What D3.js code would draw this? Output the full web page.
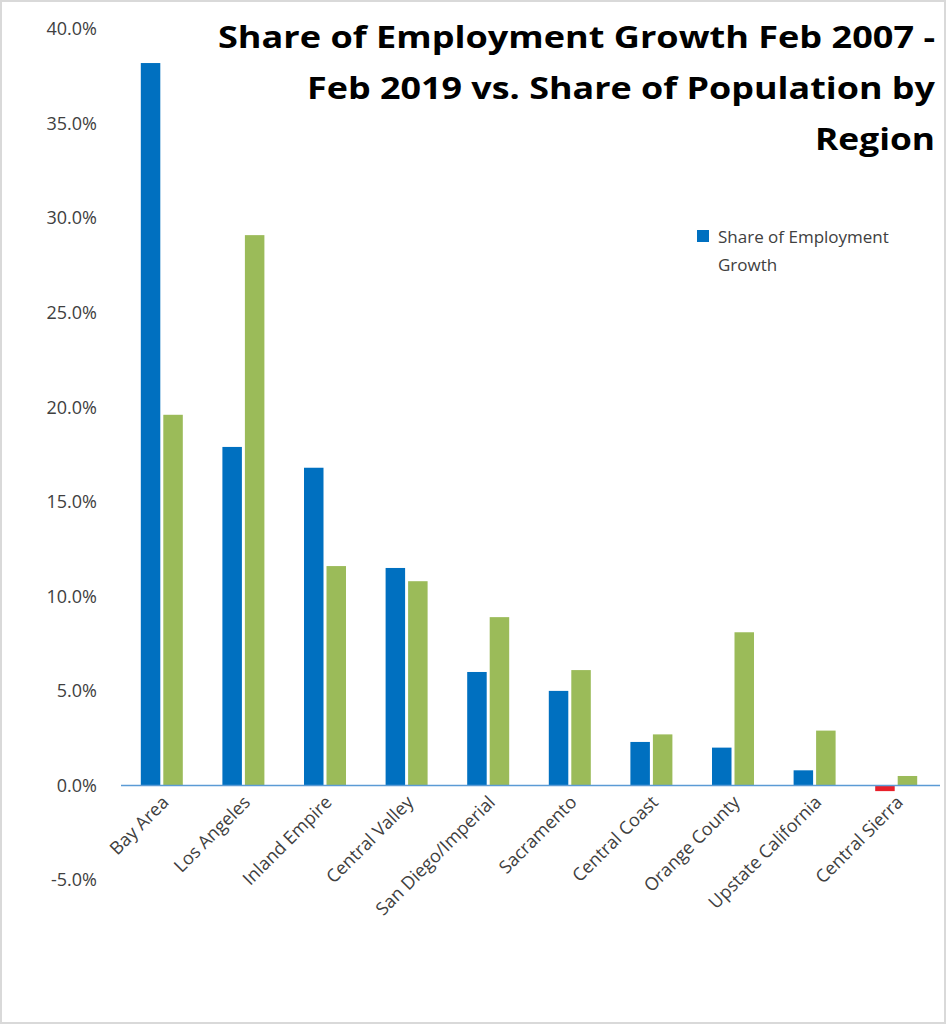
<html>
<head><title>Share of Employment Growth</title>
<style>body{margin:0;background:#fff;font-family:"Open Sans",sans-serif;}</style>
</head>
<body>
<svg id="svg"></svg>
<script src="https://d3js.org/d3.v7.min.js"></script>
<script>
const regions = ["Bay Area","Los Angeles","Inland Empire","Central Valley","San Diego/Imperial","Sacramento","Central Coast","Orange County","Upstate California","Central Sierra"];
const employmentShare = [38.2,17.9,16.8,11.5,6.0,5.0,2.3,2.0,0.8,-0.3];
const populationShare = [19.6,29.1,11.6,10.8,8.9,6.1,2.7,8.1,2.9,0.5];
const yTicks = [-5,0,5,10,15,20,25,30,35,40];

const W = 946, H = 1024;
const svg = d3.select("#svg").attr("width", W).attr("height", H);
svg.append("rect").attr("x",1).attr("y",1).attr("width",W-2).attr("height",H-2)
  .attr("fill","#fff").attr("stroke","#d9d9d9").attr("stroke-width",2);

const y = d3.scaleLinear().domain([-5,40]).range([880,29]);
const x = d3.scaleBand().domain(regions).range([121,937]);
const fmt = d => d.toFixed(1) + "%";

svg.append("g").selectAll("text").data(yTicks).enter().append("text")
  .attr("x",97).attr("y",d=>y(d)).attr("dy","0.35em").attr("text-anchor","end")
  .attr("font-size",18).attr("fill","#404040").text(fmt);

const bw = 19.5;
svg.append("g").selectAll("rect").data(regions).enter().append("rect")
  .attr("x",d=>x(d)+x.bandwidth()/2-bw-1.5).attr("width",bw)
  .attr("y",(d,i)=>y(Math.max(0,employmentShare[i])))
  .attr("height",(d,i)=>Math.abs(y(employmentShare[i])-y(0)))
  .attr("fill",(d,i)=>employmentShare[i]<0?"#e8202a":"#0070c0");
svg.append("g").selectAll("rect").data(regions).enter().append("rect")
  .attr("x",d=>x(d)+x.bandwidth()/2+1.5).attr("width",bw)
  .attr("y",(d,i)=>y(Math.max(0,populationShare[i])))
  .attr("height",(d,i)=>Math.abs(y(populationShare[i])-y(0)))
  .attr("fill","#9bbb59");

svg.append("line").attr("x1",121).attr("x2",940).attr("y1",y(0)).attr("y2",y(0))
  .attr("stroke","#5b9bd5").attr("stroke-width",1.5);

svg.append("g").selectAll("text").data(regions).enter().append("text")
  .attr("transform",d=>`translate(${x(d)+x.bandwidth()/2+8},${y(0)+18}) rotate(-45)`)
  .attr("text-anchor","end").attr("font-size",18).attr("fill","#404040").text(d=>d);

const title = ["Share of Employment Growth Feb 2007 -","Feb 2019 vs. Share of Population by","Region"];
const titleWidths = [717,628,120];
svg.append("g").selectAll("text").data(title).enter().append("text")
  .attr("x",935).attr("y",(d,i)=>48+i*51).attr("text-anchor","end")
  .attr("font-size",30).attr("font-weight","bold").attr("fill","#000")
  .attr("textLength",(d,i)=>titleWidths[i]).attr("lengthAdjust","spacingAndGlyphs").text(d=>d);

svg.append("rect").attr("x",697).attr("y",230).attr("width",12).attr("height",12).attr("fill","#0070c0");
svg.append("text").attr("x",718).attr("y",243).attr("font-size",17).attr("fill","#404040").text("Share of Employment");
svg.append("text").attr("x",718).attr("y",271).attr("font-size",17).attr("fill","#404040").text("Growth");
</script>
</body>
</html>
